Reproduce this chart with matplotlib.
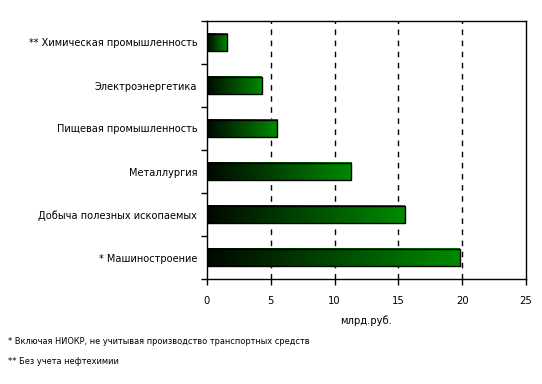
import matplotlib
matplotlib.use('Agg')
import matplotlib.pyplot as plt
from matplotlib.colors import LinearSegmentedColormap
import numpy as np

categories = ["** Химическая промышленность", "Электроэнергетика", "Пищевая промышленность",
              "Металлургия", "Добыча полезных ископаемых", "* Машиностроение"]
values = [1.6, 4.3, 5.5, 11.3, 15.5, 19.8]
xticks = [0, 5, 10, 15, 20, 25]
notes = ["* Включая НИОКР, не учитывая производство транспортных средств",
         "** Без учета нефтехимии"]

plt.rcParams['font.family'] = ['DejaVu Sans']
plt.rcParams['font.stretch'] = 'condensed'

fig = plt.figure(figsize=(5.42, 3.84), dpi=100)
ax = fig.add_axes([207/542, 1-279/384, (526-207)/542, (279-21)/384])

cmap = LinearSegmentedColormap.from_list("g", ["#000800", "#008a00"])
grad = np.linspace(0, 1, 256).reshape(1, -1)
n = len(values)
ypos = np.arange(n)[::-1]
h = 0.4
for y, v in zip(ypos, values):
    ax.imshow(grad, cmap=cmap, extent=[0, v, y - h/2, y + h/2], aspect='auto', zorder=2)
    ax.barh(y, v, height=h, facecolor='none', edgecolor='black', linewidth=1.0, zorder=3)

ax.set_xlim(0, 25)
ax.set_ylim(-0.5, n - 0.5)
ax.set_xticks(xticks)
ax.set_xticklabels([str(t) for t in xticks], fontsize=8)
ax.set_yticks(ypos)
ax.set_yticklabels(categories, fontsize=7.8)
ax.tick_params(axis='y', length=0, pad=7)
ax.set_yticks(np.arange(-0.5, n, 1.0), minor=True)
ax.tick_params(axis='y', which='minor', length=4, width=1, direction='out')
ax.tick_params(axis='x', length=4, width=1, direction='out', pad=8)
for x in xticks[1:-1]:
    ax.axvline(x, color='black', linestyle=(0, (4, 4)), linewidth=1, zorder=1)
for s in ax.spines.values():
    s.set_linewidth(1)
ax.set_xlabel("млрд.руб.", fontsize=8, labelpad=7)

fig.text(8/542, 1-341/384, notes[0], fontsize=6.6, va='center')
fig.text(8/542, 1-361/384, notes[1], fontsize=6.6, va='center')

plt.savefig("out.png", dpi=100)
